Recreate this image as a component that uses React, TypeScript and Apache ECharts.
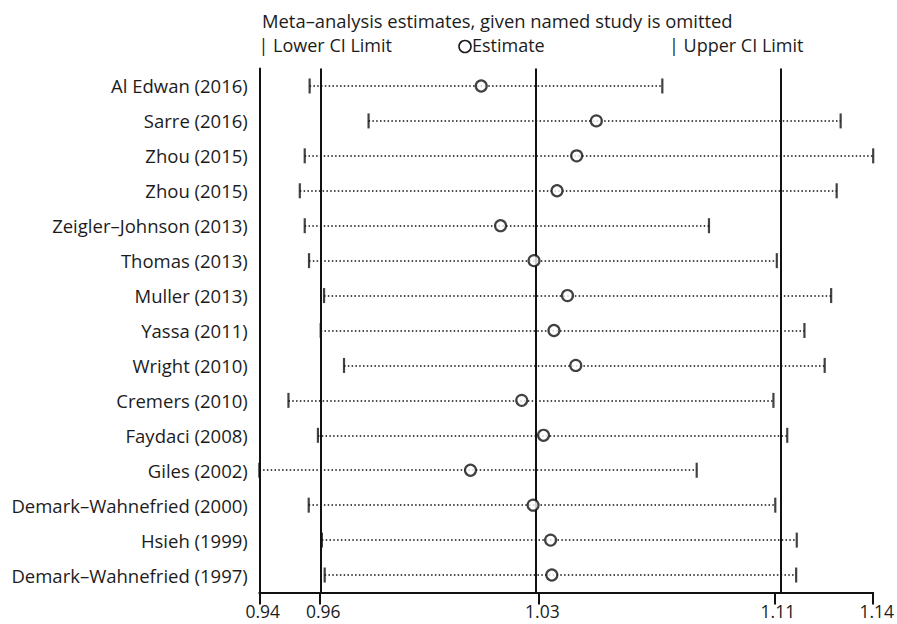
import React, { useEffect, useRef } from "react";
import * as echarts from "echarts";

const studies = [
  "Al Edwan (2016)",
  "Sarre (2016)",
  "Zhou (2015)",
  "Zhou (2015)",
  "Zeigler–Johnson (2013)",
  "Thomas (2013)",
  "Muller (2013)",
  "Yassa (2011)",
  "Wright (2010)",
  "Cremers (2010)",
  "Faydaci (2008)",
  "Giles (2002)",
  "Demark–Wahnefried (2000)",
  "Hsieh (1999)",
  "Demark–Wahnefried (1997)",
];
const lowerCI = [0.9564, 0.9756, 0.9548, 0.9532, 0.9548, 0.9562, 0.9611, 0.96, 0.9676, 0.9495, 0.9591, 0.94, 0.9561, 0.9604, 0.9613];
const estimate = [1.0123, 1.0498, 1.0434, 1.037, 1.0186, 1.0295, 1.0404, 1.036, 1.0431, 1.0255, 1.0326, 1.0088, 1.0292, 1.0349, 1.0353];
const upperCI = [1.0713, 1.1294, 1.14, 1.1281, 1.0865, 1.1086, 1.1263, 1.1176, 1.1242, 1.1075, 1.112, 1.0825, 1.1081, 1.1151, 1.1149];
const refLines = [0.9597, 1.0311, 1.1078];
const tickValues = [0.94, 0.9597, 1.0311, 1.1078, 1.14];
const tickLabels = ["0.94", "0.96", "1.03", "1.11", "1.14"];
const titleText = "Meta–analysis estimates, given named study is omitted";
const legendLower = "| Lower CI Limit";
const legendEstimate = "Estimate";
const legendUpper = "| Upper CI Limit";

const FONT = "'Open Sans', sans-serif";
const INK = "#111";
const TEXT = "#1c1c1c";

export default function App() {
  const ref = useRef<HTMLDivElement>(null);
  useEffect(() => {
    if (!ref.current) return;
    const chart = echarts.init(ref.current, null, { renderer: "svg" });
    const rows = studies.map((_, i) => i);
    const option = {
      animation: false,
      backgroundColor: "#fff",
      textStyle: { fontFamily: FONT },
      grid: { left: 259.3, right: 21, top: 68.5, bottom: 31.5, containLabel: false },
      xAxis: {
        type: "value",
        min: 0.94,
        max: 1.14,
        splitLine: { show: false },
        axisLine: { show: true, lineStyle: { color: INK, width: 2 } },
        axisTick: { show: true, customValues: tickValues, length: 12, lineStyle: { color: INK, width: 2 } },
        axisLabel: {
          customValues: tickValues,
          fontSize: 17.5,
          lineHeight: 15,
          fontFamily: FONT,
          color: TEXT,
          margin: 11,
          padding: [0, 0, 0, 7],
          formatter: (v: number) => {
            const k = tickValues.findIndex((t) => Math.abs(t - v) < 1e-6);
            return k >= 0 ? tickLabels[k] : "";
          },
        },
      },
      yAxis: {
        type: "category",
        data: studies,
        inverse: true,
        axisLine: { show: true, lineStyle: { color: INK, width: 2 } },
        axisTick: { show: false },
        splitLine: { show: false },
        axisLabel: { fontSize: 18.5, fontFamily: FONT, color: TEXT, margin: 11.5 },
      },
      graphic: [
        { type: "text", left: 262, top: 11.5, style: { text: titleText, font: `18.4px ${FONT}`, fill: TEXT } },
        { type: "text", left: 258.5, top: 35.5, style: { text: legendLower, font: `18px ${FONT}`, fill: TEXT } },
        { type: "circle", shape: { cx: 465, cy: 46.5, r: 6 }, style: { fill: "none", stroke: TEXT, lineWidth: 1.6 } },
        { type: "text", left: 472, top: 35.5, style: { text: legendEstimate, font: `18px ${FONT}`, fill: TEXT } },
        { type: "text", left: 669, top: 35.5, style: { text: legendUpper, font: `18px ${FONT}`, fill: TEXT } },
      ],
      series: [
        {
          type: "lines",
          coordinateSystem: "cartesian2d",
          z: 1,
          silent: true,
          lineStyle: { color: INK, width: 1.5, type: [1.5, 2.3], opacity: 1 },
          data: rows.map((i) => ({ coords: [[lowerCI[i], i], [upperCI[i], i]] })),
        },
        {
          type: "scatter",
          z: 3,
          symbol: "rect",
          symbolSize: [2.2, 15],
          itemStyle: { color: INK },
          data: rows.map((i) => [lowerCI[i], i]),
          markLine: {
            silent: true,
            symbol: ["none", "none"],
            label: { show: false },
            lineStyle: { color: INK, width: 2, type: "solid" },
            data: refLines.map((v) => ({ xAxis: v })),
            z: 2,
          },
        },
        {
          type: "scatter",
          z: 3,
          symbol: "rect",
          symbolSize: [2.2, 15],
          itemStyle: { color: INK },
          data: rows.map((i) => [upperCI[i], i]),
        },
        {
          type: "scatter",
          z: 4,
          symbol: "circle",
          symbolSize: 11,
          itemStyle: { color: "#fff", borderColor: INK, borderWidth: 2.2 },
          data: rows.map((i) => [estimate[i], i]),
        },
      ],
    };
    chart.setOption(option as any);
    return () => chart.dispose();
  }, []);
  return (
    <div
      ref={ref}
      style={{ position: "fixed", left: 0, top: 0, width: 897, height: 624, background: "#fff" }}
    />
  );
}
